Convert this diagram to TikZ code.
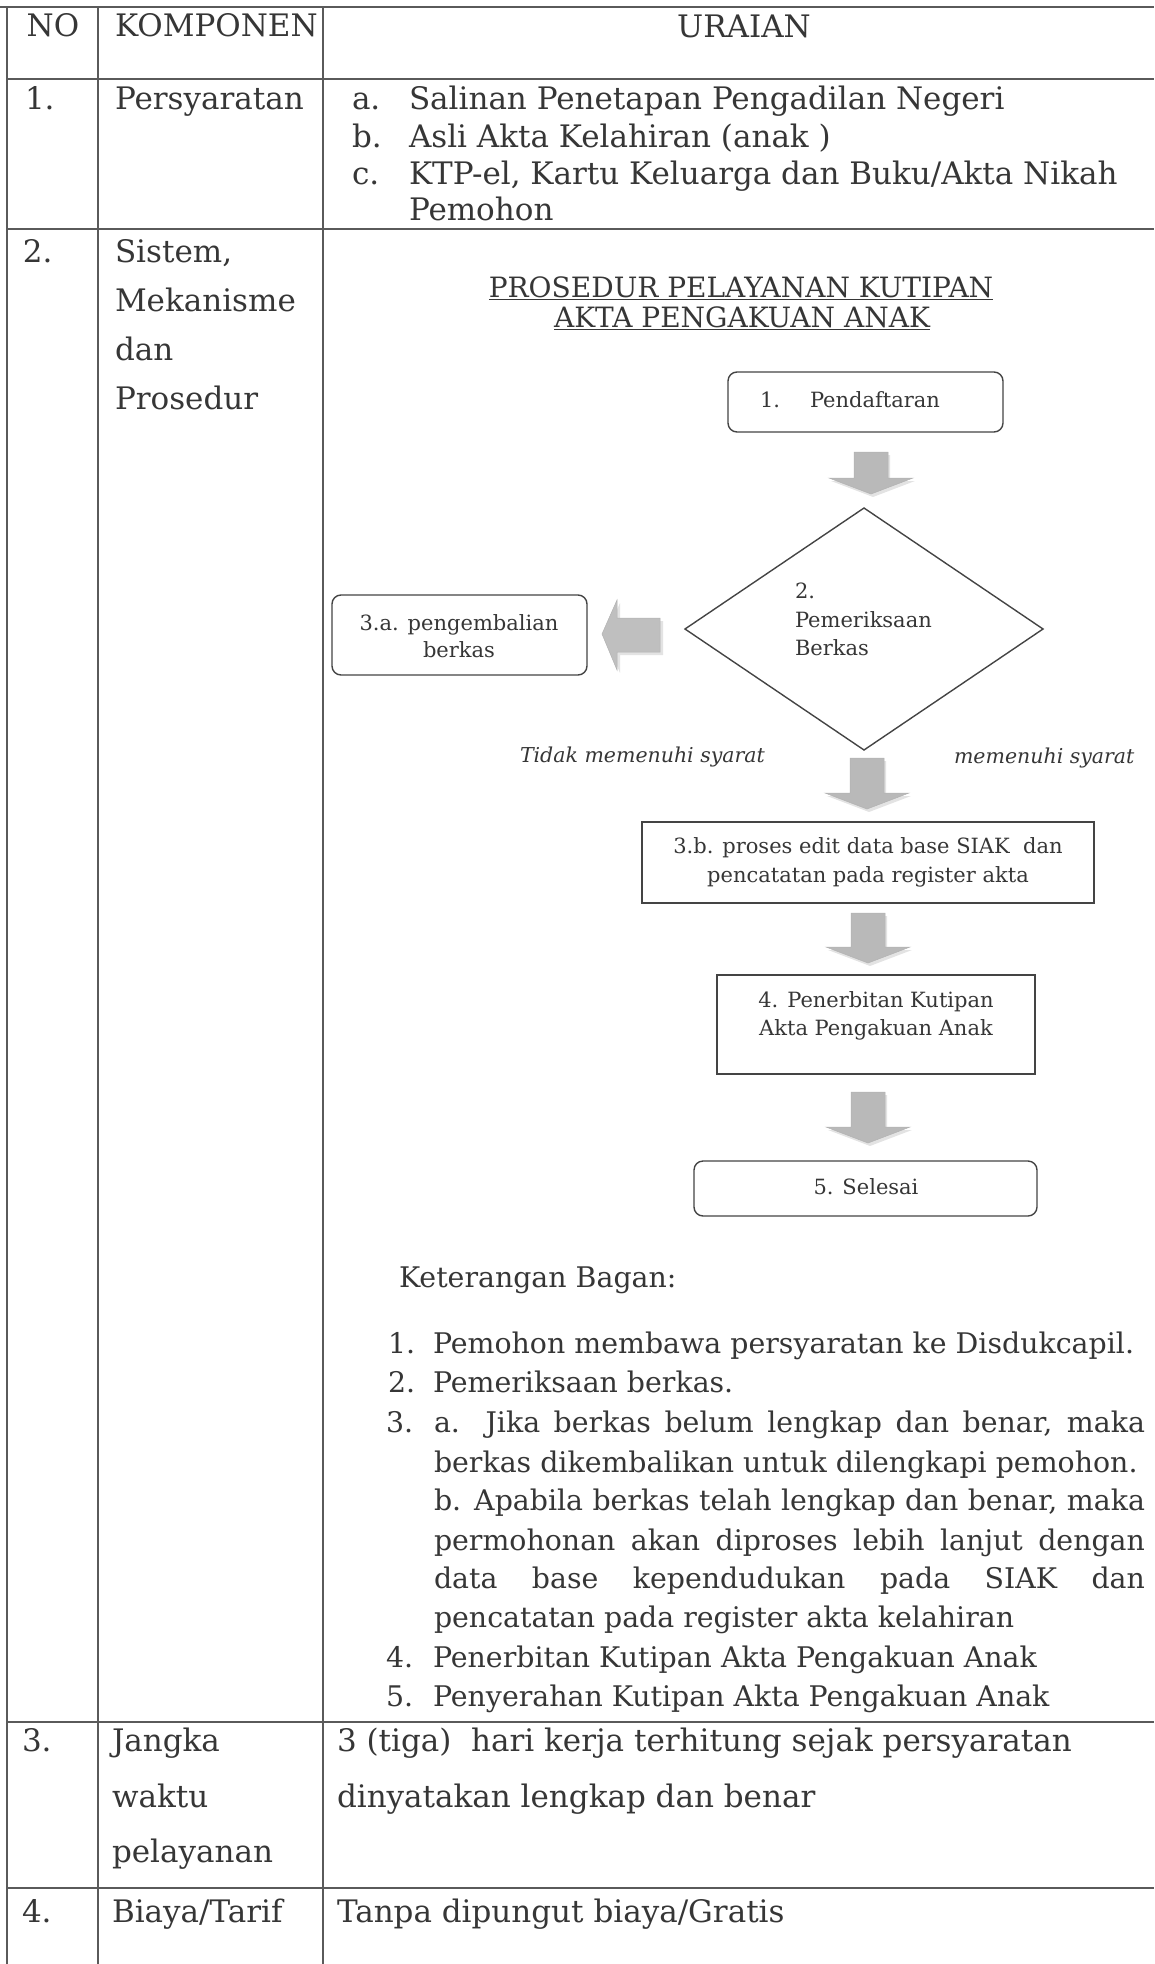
\documentclass[tikz,border=0pt]{standalone}
\usepackage{fontspec}
\setmainfont{DejaVu Serif}
\usetikzlibrary{shapes.geometric}

\definecolor{ink}{HTML}{363636}
\definecolor{rulec}{HTML}{5A5A5A}
\definecolor{boxc}{HTML}{444444}

\begin{document}
\begin{tikzpicture}[x=1pt,y=-1pt,
  every node/.style={inner sep=0pt, outer sep=0pt, text=ink},
  body/.style={anchor=base west, font=\fontsize{31}{37}\selectfont},
  bodyc/.style={anchor=base, font=\fontsize{31}{37}\selectfont},
  legend/.style={anchor=base west, font=\fontsize{28.4}{34}\selectfont},
  ttl/.style={anchor=base, font=\fontsize{28}{32}\selectfont},
  flow/.style={anchor=base west, font=\fontsize{21}{28}\selectfont},
  flowc/.style={anchor=base, font=\fontsize{21}{28}\selectfont},
  note/.style={anchor=base west, font=\fontsize{20.5}{28}\itshape},
  tline/.style={draw=rulec, line width=1.8pt},
  rbox/.style={draw=boxc, line width=1.4pt, rounded corners=9pt},
  sbox/.style={draw=boxc, line width=1.4pt},
  darrow/.pic={
    \fill[gray!22] (-15,3) -- (19,3) -- (19,#1+3) -- (44,#1+3) -- (2,#1+19) -- (-40,#1+3) -- (-15,#1+3) -- cycle;
    \shade[left color=gray!55, middle color=gray!12, right color=gray!55, draw=gray!60, line width=0.5pt]
      (-17,0) -- (17,0) -- (17,#1) -- (42,#1) -- (0,#1+16) -- (-42,#1) -- (-17,#1) -- cycle;
  }
]
\useasboundingbox (0,0) rectangle (1154,1964);

% ---------- table rules ----------
\draw[tline] (0,7) -- (1154,7);
\draw[tline] (7,79) -- (1154,79);
\draw[tline] (7,229) -- (1154,229);
\draw[tline] (7,1722) -- (1154,1722);
\draw[tline] (7,1888) -- (1154,1888);
\draw[tline] (7,7) -- (7,1964);
\draw[tline] (98,7) -- (98,1964);
\draw[tline] (323,7) -- (323,1964);

% ---------- header ----------
\node[bodyc] (hno) at (53,37) {NO};
\node[body] (hkomp) at (115,37) {KOMPONEN};
\node[bodyc] (hurai) at (744,38) {URAIAN};

% ---------- row 1 ----------
\node[body] (r1no) at (25,110) {1.};
\node[body] (r1k) at (115,110) {Persyaratan};
\node[body] (r1a) at (352,110) {a.};
\node[body] (r1at) at (409,110) {Salinan Penetapan Pengadilan Negeri};
\node[body] (r1b) at (352,148) {b.};
\node[body] (r1bt) at (409,148) {Asli Akta Kelahiran (anak )};
\node[body] (r1c) at (352,185) {c.};
\node[body] (r1ct) at (409,185) {KTP-el, Kartu Keluarga dan Buku/Akta Nikah};
\node[body] (r1ct2) at (409,221) {Pemohon};

% ---------- row 2 ----------
\node[body] (r2no) at (23,262) {2.};
\node[body] (r2k1) at (115,262) {Sistem,};
\node[body] (r2k2) at (115,311) {Mekanisme};
\node[body] (r2k3) at (115,360) {dan};
\node[body] (r2k4) at (115,409) {Prosedur};

\node[ttl] (title1) at (741,297) {\underline{PROSEDUR PELAYANAN KUTIPAN}};
\node[ttl] (title2) at (742,327) {\underline{AKTA PENGAKUAN ANAK}};

% flowchart boxes
\node[rbox, minimum width=275, minimum height=60] (s1) at (865.5,402) {};
\node[flow] (s1n) at (760,407) {1.};
\node[flow] (s1t) at (810,407) {Pendaftaran};

\node[diamond, draw=boxc, line width=1.4pt, minimum width=358, minimum height=242] (s2) at (864,629) {};
\node[flow] (s2a) at (795,598) {2.};
\node[flow] (s2b) at (795,627) {Pemeriksaan};
\node[flow] (s2c) at (795,655) {Berkas};

\node[rbox, minimum width=255, minimum height=80] (s3a) at (459.5,635) {};
\node[flowc] (s3a1) at (459,630) {3.a. pengembalian};
\node[flowc] (s3a2) at (459,657) {berkas};

\node[sbox, minimum width=452, minimum height=81] (s3b) at (868,862.5) {};
\node[flowc] (s3b1) at (868,853) {3.b. proses edit data base SIAK\ \ dan};
\node[flowc] (s3b2) at (868,882) {pencatatan pada register akta};

\node[sbox, minimum width=318, minimum height=99] (s4) at (876,1024.5) {};
\node[flowc] (s4a) at (876,1007) {4. Penerbitan Kutipan};
\node[flowc] (s4b) at (876,1035) {Akta Pengakuan Anak};

\node[rbox, minimum width=343, minimum height=55] (s5) at (865.5,1188.5) {};
\node[flowc] (s5t) at (866,1194) {5. Selesai};

\node[note] (lno) at (520,762) {Tidak memenuhi syarat};
\node[note] (lyes) at (954,763) {memenuhi syarat};

% block arrows
\pic at (871,452) {darrow=26};
\pic at (867,758) {darrow=35};
\pic at (868,913) {darrow=34};
\pic at (868,1092) {darrow=35};
\fill[gray!22] (605,637) -- (620,603) -- (620,621) -- (663,621) -- (663,655) -- (620,655) -- (620,673) -- cycle;
\shade[top color=gray!50, middle color=gray!12, bottom color=gray!50, draw=gray!60, line width=0.5pt]
  (602,634) -- (617,600) -- (617,618) -- (660,618) -- (660,652) -- (617,652) -- (617,670) -- cycle;

% legend
\node[legend] (ket) at (399,1287) {Keterangan Bagan:};
\node[legend] (k1n) at (388,1353) {1.};
\node[legend] (k1t) at (433,1353) {Pemohon membawa persyaratan ke Disdukcapil.};
\node[legend] (k2n) at (388,1392) {2.};
\node[legend] (k2t) at (433,1392) {Pemeriksaan berkas.};
\node[legend] (k3n) at (386,1432) {3.};
\node[legend] (k3a) at (434,1432) {\makebox[711pt][s]{a. Jika berkas belum lengkap dan benar, maka}};
\node[legend] (k3a2) at (434,1472) {berkas dikembalikan untuk dilengkapi pemohon.};
\node[legend] (k3b) at (434,1510) {\makebox[711pt][s]{b. Apabila berkas telah lengkap dan benar, maka}};
\node[legend] (k3b2) at (434,1550) {\makebox[711pt][s]{permohonan akan diproses lebih lanjut dengan}};
\node[legend] (k3b3) at (434,1588) {\makebox[711pt][s]{data base kependudukan pada SIAK dan}};
\node[legend] (k3b4) at (434,1627) {pencatatan pada register akta kelahiran};
\node[legend] (k4n) at (386,1667) {4.};
\node[legend] (k4t) at (433,1667) {Penerbitan Kutipan Akta Pengakuan Anak};
\node[legend] (k5n) at (386,1706) {5.};
\node[legend] (k5t) at (433,1706) {Penyerahan Kutipan Akta Pengakuan Anak};

% ---------- row 3 ----------
\node[body] (r3no) at (22,1751) {3.};
\node[body] (r3k1) at (112,1751) {Jangka};
\node[body] (r3k2) at (112,1807) {waktu};
\node[body] (r3k3) at (112,1862) {pelayanan};
\node[body] (r3u1) at (337,1751) {3 (tiga)\ \ hari kerja terhitung sejak persyaratan};
\node[body] (r3u2) at (337,1807) {dinyatakan lengkap dan benar};

% ---------- row 4 ----------
\node[body] (r4no) at (22,1922) {4.};
\node[body] (r4k) at (112,1922) {Biaya/Tarif};
\node[body] (r4u) at (337,1922) {Tanpa dipungut biaya/Gratis};
\end{tikzpicture}
\end{document}
